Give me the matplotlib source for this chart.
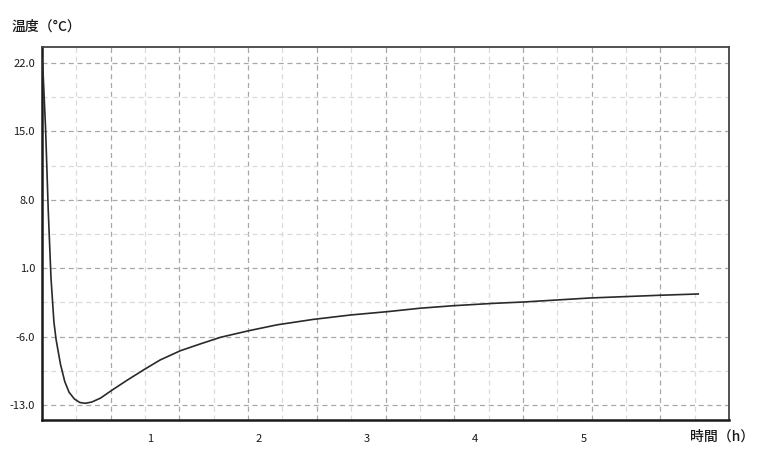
import numpy as np
import matplotlib
matplotlib.use("Agg")
from matplotlib import pyplot as plt
from matplotlib.ticker import FixedLocator

plt.rcParams['font.family'] = ['Noto Sans CJK JP', 'DejaVu Sans']

# time (h) and temperature (deg C)
hours = [0.0, 0.01, 0.033, 0.058, 0.083, 0.11, 0.13, 0.17, 0.21, 0.25, 0.30,
         0.35, 0.40, 0.46, 0.54, 0.65, 0.79, 0.94, 1.09, 1.28, 1.46, 1.65,
         1.91, 2.17, 2.50, 2.85, 3.19, 3.49, 3.80, 4.17, 4.45, 5.06, 5.71, 6.06]
temps = [22.5, 21.0, 15.3, 6.8, 0.0, -4.5, -6.3, -8.8, -10.6, -11.7, -12.4,
         -12.75, -12.83, -12.7, -12.3, -11.46, -10.44, -9.4, -8.4, -7.44, -6.76,
         -6.07, -5.4, -4.8, -4.25, -3.79, -3.45, -3.1, -2.84, -2.6, -2.46,
         -2.05, -1.77, -1.64]
x_ticks = [1, 2, 3, 4, 5]
y_ticks = [-13.0, -6.0, 1.0, 8.0, 15.0, 22.0]

fig = plt.figure(figsize=(7.68, 4.75), dpi=100)
ax = fig.add_axes([42 / 768, 55 / 475, 687 / 768, 373 / 475])

xlim = (0, 6.344)
ylim = (-14.54, 23.64)
ax.set_xlim(*xlim)
ax.set_ylim(*ylim)

major_c = '#a8a8a8'
minor_c = '#dadada'
dash = (0, (4, 3))

# vertical grid splits the plot width into 10 / 20 parts
edges = np.linspace(xlim[0], xlim[1], 21)[1:-1]
for i, xv in enumerate(edges):
    ax.axvline(xv, color=major_c if i % 2 == 1 else minor_c, lw=0.9, ls=dash, zorder=1)

ax.set_yticks(y_ticks)
ax.set_yticklabels([f"{v:.1f}" for v in y_ticks])
mids = [(a + b) / 2 for a, b in zip(y_ticks[:-1], y_ticks[1:])]
ax.yaxis.set_minor_locator(FixedLocator(mids))
ax.grid(axis='y', which='major', color=major_c, lw=0.9, ls=dash, zorder=1)
ax.grid(axis='y', which='minor', color=minor_c, lw=0.9, ls=dash, zorder=1)

ax.set_xticks(x_ticks)
ax.set_xticklabels([str(v) for v in x_ticks])
ax.tick_params(axis='both', which='both', length=0, labelsize=8, colors='#1a1a1a')
ax.tick_params(axis='x', pad=10)
ax.tick_params(axis='y', pad=5)

ax.plot(hours, temps, color='#2a2a2a', lw=1.2, zorder=3)

for side in ['left', 'bottom']:
    ax.spines[side].set_linewidth(1.8)
    ax.spines[side].set_color('#1a1a1a')
for side in ['top', 'right']:
    ax.spines[side].set_linewidth(1.3)
    ax.spines[side].set_color('#444444')

fig.text(12 / 768, 1 - 27 / 475, "温度（°C）", fontsize=10, color='#1a1a1a',
         va='center', ha='left', fontweight='medium')
fig.text(690 / 768, 1 - 437 / 475, "時間（h）", fontsize=10, color='#1a1a1a',
         va='center', ha='left', fontweight='medium')

fig.savefig("out.png", dpi=100, facecolor='white')
